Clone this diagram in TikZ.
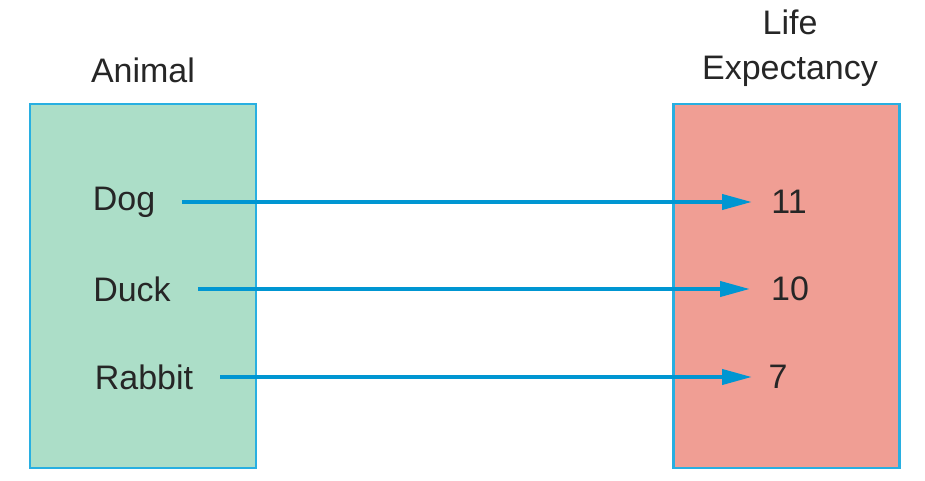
\documentclass[tikz,border=0pt]{standalone}
\usepackage{fontspec}
\setmainfont{Liberation Sans}
\usetikzlibrary{arrows.meta}
\definecolor{leftfill}{RGB}{172,222,200}
\definecolor{rightfill}{RGB}{240,158,148}
\definecolor{boxedge}{RGB}{40,175,225}
\definecolor{arrowcol}{RGB}{0,150,210}
\begin{document}
\begin{tikzpicture}[x=1pt,y=-1pt,
  setbox/.style={draw=boxedge,line width=2.5pt,inner sep=0pt,minimum width=226pt,minimum height=364pt},
  lbl/.style={font=\fontsize{34}{38}\selectfont,text=black!85,inner sep=0pt},
  maparrow/.style={draw=arrowcol,line width=4pt,-{Triangle[length=30pt,width=15pt]}}]
\useasboundingbox (0,0) rectangle (925,481);
\node[setbox,fill=leftfill] (dom) at (143,286) {};
\node[setbox,fill=rightfill] (rng) at (786.5,286) {};
\node[lbl] (thead) at (143,70) {Animal};
\node[lbl,align=center,font=\fontsize{34}{45}\selectfont] (rhead) at (790,48) {Life\\Expectancy};
\node[lbl] (dog) at (124,202) {Dog};
\node[lbl] (duck) at (132,289) {Duck};
\node[lbl] (rabbit) at (144,377) {Rabbit};
\node[lbl] (v11) at (789,202) {11};
\node[lbl] (v10) at (790,289) {10};
\node[lbl] (v7) at (778,377) {7};
\draw[maparrow] ([xshift=27pt]dog.east) -- (752,202);
\draw[maparrow] ([xshift=27pt]duck.east) -- (750,289);
\draw[maparrow] ([xshift=27pt]rabbit.east) -- (752,377);
\end{tikzpicture}
\end{document}
